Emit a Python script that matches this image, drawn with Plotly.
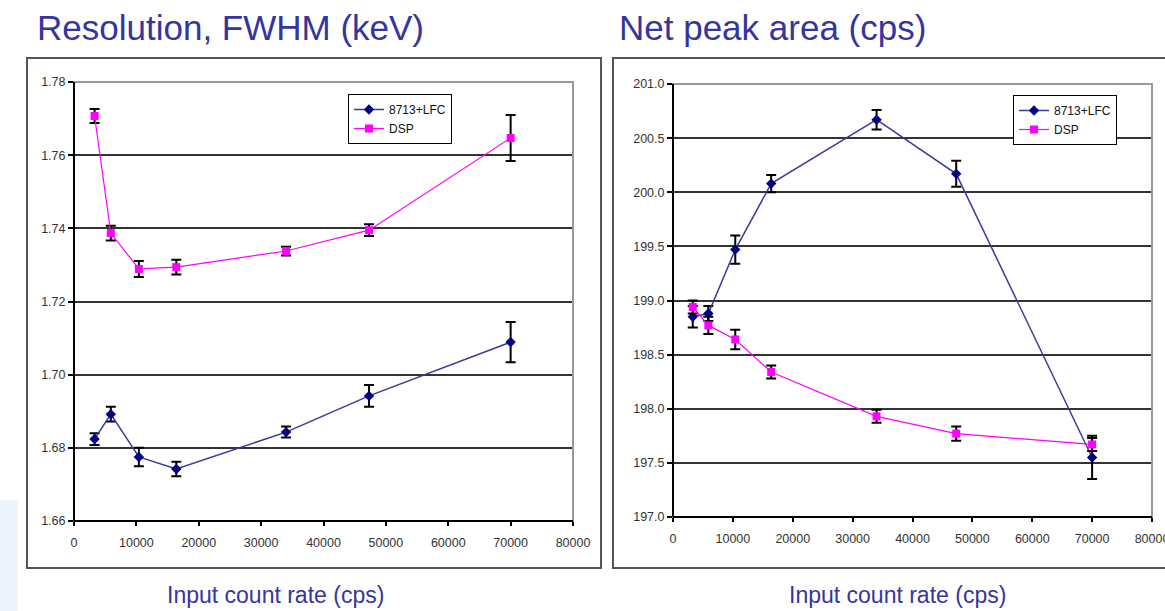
import plotly.graph_objects as go

# ---- data ----
rate = [3300, 5900, 10400, 16400, 34000, 47300, 70000]

fwhm_lfc = [1.6824, 1.6892, 1.6775, 1.6742, 1.6843, 1.6942, 1.7089]
fwhm_lfc_err = [0.0016, 0.0020, 0.0025, 0.0020, 0.0015, 0.0030, 0.0055]
fwhm_dsp = [1.7707, 1.7387, 1.7289, 1.7294, 1.7338, 1.7395, 1.7647]
fwhm_dsp_err = [0.0019, 0.0020, 0.0022, 0.0020, 0.0012, 0.0016, 0.0063]

area_lfc = [198.85, 198.88, 199.47, 200.08, 200.67, 200.17, 197.55]
area_lfc_err = [0.10, 0.07, 0.13, 0.08, 0.09, 0.12, 0.20]
area_dsp = [198.94, 198.77, 198.64, 198.34, 197.93, 197.77, 197.67]
area_dsp_err = [0.06, 0.08, 0.09, 0.06, 0.06, 0.065, 0.06]

W, H = 1165, 611
NAVY = "#000080"
NAVY_LINE = "#3a3a9a"
MAG = "#FF00FF"
TITLE_C = "#35359F"
FONT = "Liberation Sans, Arial, sans-serif"


def px(x):
    return x / W


def py(y):
    return 1 - y / H


fig = go.Figure()

err_style = dict(type="data", color="black", thickness=2, width=5, visible=True)

fig.add_trace(go.Scatter(x=rate, y=fwhm_lfc, name="8713+LFC", mode="lines+markers",
                         line=dict(color=NAVY_LINE, width=1.5),
                         marker=dict(symbol="diamond", size=8, color=NAVY),
                         error_y=dict(array=fwhm_lfc_err, **err_style),
                         xaxis="x", yaxis="y", legend="legend"))
fig.add_trace(go.Scatter(x=rate, y=fwhm_dsp, name="DSP", mode="lines+markers",
                         line=dict(color=MAG, width=1.2),
                         marker=dict(symbol="square", size=8, color=MAG),
                         error_y=dict(array=fwhm_dsp_err, **err_style),
                         xaxis="x", yaxis="y", legend="legend"))
fig.add_trace(go.Scatter(x=rate, y=area_lfc, name="8713+LFC", mode="lines+markers",
                         line=dict(color=NAVY_LINE, width=1.5),
                         marker=dict(symbol="diamond", size=8, color=NAVY),
                         error_y=dict(array=area_lfc_err, **err_style),
                         xaxis="x2", yaxis="y2", legend="legend2"))
fig.add_trace(go.Scatter(x=rate, y=area_dsp, name="DSP", mode="lines+markers",
                         line=dict(color=MAG, width=1.2),
                         marker=dict(symbol="square", size=8, color=MAG),
                         error_y=dict(array=area_dsp_err, **err_style),
                         xaxis="x2", yaxis="y2", legend="legend2"))

tickfont = dict(family=FONT, size=12.5, color="#333333")
xcommon = dict(range=[0, 80000], dtick=10000, tick0=0, tickformat="d", showgrid=False,
               zeroline=False, showline=False, ticks="outside", ticklen=4,
               tickcolor="black", tickwidth=1.5, tickfont=tickfont, fixedrange=True,
               automargin=False, ticklabeloverflow="allow", ticklabelstandoff=6)
ycommon = dict(showgrid=True, gridcolor="#333333", gridwidth=1.5, zeroline=False,
               showline=False, ticks="outside", ticklen=5, tickcolor="black",
               tickwidth=1.5, tickfont=tickfont, fixedrange=True, automargin=False)

fig.update_layout(
    template="none",
    width=W, height=H, margin=dict(l=0, r=0, t=0, b=0, pad=0, autoexpand=False),
    paper_bgcolor="white", plot_bgcolor="white",
    font=dict(family=FONT),
    xaxis=dict(domain=[px(74), px(573)], anchor="y", **xcommon),
    yaxis=dict(domain=[py(521), py(82)], anchor="x", range=[1.66, 1.78], dtick=0.02,
               tick0=1.66, tickformat=".2f", **ycommon),
    xaxis2=dict(domain=[px(673), px(1152)], anchor="y2", **xcommon),
    yaxis2=dict(domain=[py(517), py(84)], anchor="x2", range=[197, 201], dtick=0.5,
                tick0=197, tickformat=".1f", **ycommon),
    legend=dict(x=px(348), y=py(94), xanchor="left", yanchor="top",
                bgcolor="white", bordercolor="black", borderwidth=1,
                font=dict(family=FONT, size=12, color="#111111"),
                tracegroupgap=0, itemwidth=30),
    legend2=dict(x=px(1013), y=py(95), xanchor="left", yanchor="top",
                 bgcolor="white", bordercolor="black", borderwidth=1,
                 font=dict(family=FONT, size=12, color="#111111"),
                 tracegroupgap=0, itemwidth=30),
    showlegend=True,
    hovermode=False,
)

shapes = []
# faint slide decoration bottom-left
shapes.append(dict(type="rect", xref="paper", yref="paper", x0=0, x1=px(18),
                   y0=0, y1=py(500), line=dict(width=0), fillcolor="#EEF4FC",
                   layer="below"))
# panel boxes
shapes.append(dict(type="rect", xref="paper", yref="paper", x0=px(27), x1=px(601),
                   y0=py(568), y1=py(58), line=dict(color="#555555", width=2),
                   layer="below"))
shapes.append(dict(type="rect", xref="paper", yref="paper", x0=px(613), x1=px(1175),
                   y0=py(568), y1=py(58), line=dict(color="#555555", width=2),
                   layer="below"))
# plot area borders (gray) + black axis lines
for xa, ya in (("x", "y"), ("x2", "y2")):
    shapes.append(dict(type="rect", xref=f"{xa} domain", yref=f"{ya} domain",
                       x0=0, x1=1, y0=0, y1=1, line=dict(color="#999999", width=2),
                       layer="above"))
    shapes.append(dict(type="line", xref=f"{xa} domain", yref=f"{ya} domain",
                       x0=0, x1=0, y0=0, y1=1, line=dict(color="black", width=2),
                       layer="above"))
    shapes.append(dict(type="line", xref=f"{xa} domain", yref=f"{ya} domain",
                       x0=0, x1=1, y0=0, y1=0, line=dict(color="black", width=2),
                       layer="above"))
fig.update_layout(shapes=shapes)

annots = [
    dict(text="Resolution, FWHM (keV)", x=px(230), y=py(27), size=35),
    dict(text="Net peak area (cps)", x=px(772), y=py(27), size=35),
    dict(text="Input count rate (cps)", x=px(275), y=py(595), size=23),
    dict(text="Input count rate (cps)", x=px(897), y=py(595), size=23),
]
fig.update_layout(annotations=[
    dict(text=a["text"], x=a["x"], y=a["y"], xref="paper", yref="paper",
         xanchor="center", yanchor="middle", showarrow=False,
         font=dict(family=FONT, size=a["size"], color=TITLE_C))
    for a in annots
])

fig.write_html(
    "out.html",
    config={"displayModeBar": False},
    post_script="document.body.style.margin='0';document.body.style.overflow='hidden';",
)
